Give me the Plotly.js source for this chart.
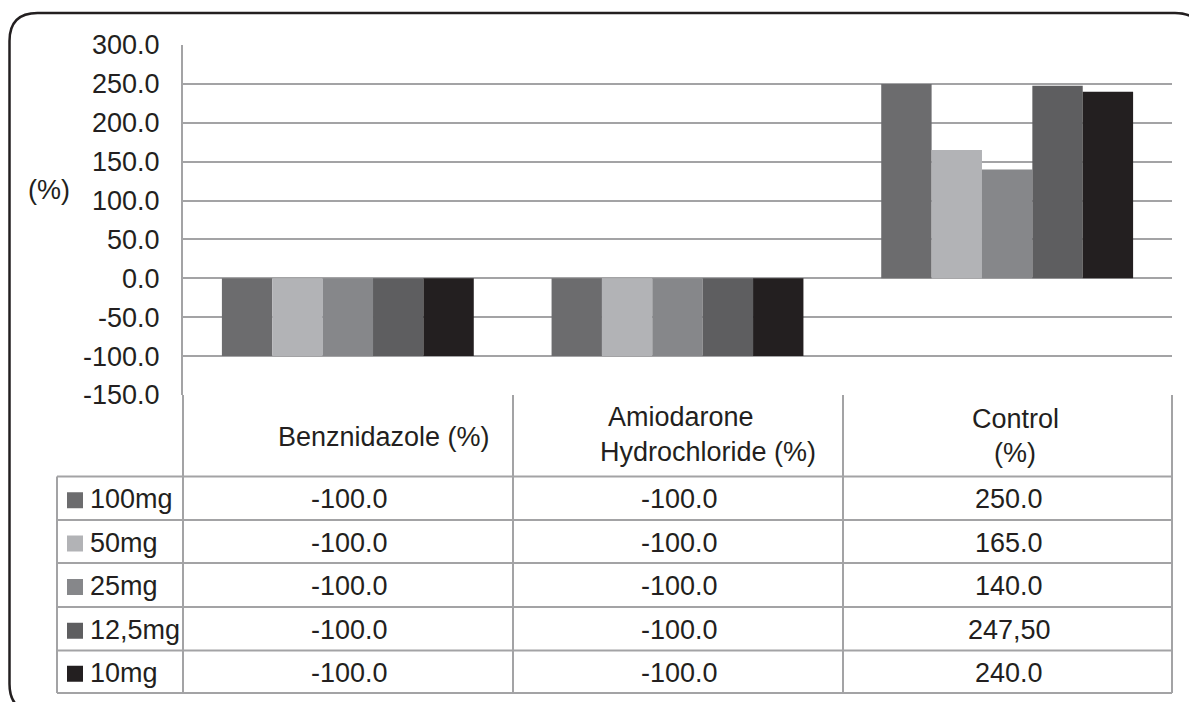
<!DOCTYPE html>
<html><head><meta charset="utf-8">
<script src="https://cdn.plot.ly/plotly-3.0.1.min.js"></script>
<style>html,body{margin:0;padding:0;background:#fff;} #chart{width:1189px;height:702px;}</style>
</head><body><div id="chart"></div>
<script>
// ---- data ----
const categories = ['Benznidazole (%)', 'Amiodarone Hydrochloride (%)', 'Control (%)'];
const headerLines = [['Benznidazole (%)'], ['Amiodarone', 'Hydrochloride (%)'], ['Control', '(%)']];
const seriesNames = ['100mg', '50mg', '25mg', '12,5mg', '10mg'];
const values100mg = [-100, -100, 250];
const values50mg = [-100, -100, 165];
const values25mg = [-100, -100, 140];
const values12_5mg = [-100, -100, 247.5];
const values10mg = [-100, -100, 240];
const labels100mg = ['-100.0', '-100.0', '250.0'];
const labels50mg = ['-100.0', '-100.0', '165.0'];
const labels25mg = ['-100.0', '-100.0', '140.0'];
const labels12_5mg = ['-100.0', '-100.0', '247,50'];
const labels10mg = ['-100.0', '-100.0', '240.0'];
const yTickValues = [-150, -100, -50, 0, 50, 100, 150, 200, 250, 300];
const yTickLabels = ['-150.0', '-100.0', '-50.0', '0.0', '50.0', '100.0', '150.0', '200.0', '250.0', '300.0'];
const yAxisTitle = '(%)';

// ---- style ----
const seriesValues = [values100mg, values50mg, values25mg, values12_5mg, values10mg];
const seriesLabels = [labels100mg, labels50mg, labels25mg, labels12_5mg, labels10mg];
const colors = ['#6c6c6e', '#b2b3b6', '#86878a', '#5e5e60', '#231f20'];
const FONT = 'Liberation Sans, Arial, sans-serif';
const TXT = '#231f20';
const GRID = '#a3a3a5';
const FS = 27;

// pixel -> paper helpers (plot area 183..1172 x 45..395)
const PL = 183, PR = 1172, PT = 45, PB = 395;
const px = x => (x - PL) / (PR - PL);
const py = y => (PB - y) / (PB - PT);

const traces = seriesNames.map((n, i) => ({
  type: 'bar', name: n, x: categories, y: seriesValues[i],
  marker: {color: colors[i], line: {width: 0}}, hoverinfo: 'skip'
}));

const shapes = [];
const annotations = [];
const line = (x0, y0, x1, y1, w, c) => shapes.push({type: 'line', xref: 'paper', yref: 'paper',
  x0: px(x0), y0: py(y0), x1: px(x1), y1: py(y1), line: {color: c || GRID, width: w || 2}});

// table geometry
const rowY = [476.5, 520, 563, 607, 650.5, 693];
const colX = [183, 513, 843, 1172];
const legendLeft = 57;
line(colX[0], PB, colX[0], rowY[5]);
line(colX[1], PB, colX[1], rowY[5]);
line(colX[2], PB, colX[2], rowY[5]);
line(colX[3], PB, colX[3], rowY[5]);
line(legendLeft, rowY[0], legendLeft, rowY[5]);
rowY.forEach(y => line(legendLeft, y, colX[3], y));

// header texts
const headerPos = [
  [{x: 384, y: 437}],
  [{x: 681, y: 417}, {x: 708, y: 452}],
  [{x: 1015, y: 419}, {x: 1015, y: 453}]
];
headerLines.forEach((lines, c) => lines.forEach((t, k) => annotations.push({
  xref: 'paper', yref: 'paper', x: px(headerPos[c][k].x), y: py(headerPos[c][k].y),
  text: t, showarrow: false, xanchor: 'center', yanchor: 'middle',
  font: {family: FONT, size: FS, color: TXT}
})));

// rows: legend swatch, name, values
seriesNames.forEach((n, i) => {
  const cy = (rowY[i] + rowY[i + 1]) / 2;
  shapes.push({type: 'rect', xref: 'paper', yref: 'paper',
    x0: px(67), x1: px(83), y0: py(cy - 6), y1: py(cy + 10),
    fillcolor: colors[i], line: {width: 0}});
  annotations.push({xref: 'paper', yref: 'paper', x: px(88), y: py(cy + 1), text: n,
    showarrow: false, xanchor: 'left', yanchor: 'middle', font: {family: FONT, size: FS, color: TXT}});
  seriesLabels[i].forEach((t, c) => annotations.push({
    xref: 'x', yref: 'paper', x: categories[c], xshift: 2, y: py(cy + 1), text: t,
    showarrow: false, xanchor: 'center', yanchor: 'middle', font: {family: FONT, size: FS, color: TXT}}));
});

// y title
annotations.push({xref: 'paper', yref: 'paper', x: px(49), y: py(190), text: yAxisTitle,
  showarrow: false, xanchor: 'center', yanchor: 'middle', font: {family: FONT, size: FS, color: TXT}});

// outer rounded border
(function () {
  const L = 9.5, T = 13, R = 1203, B = 712, r = 28;
  const P = (x, y) => px(x) + ',' + py(y);
  shapes.push({type: 'path', xref: 'paper', yref: 'paper',
    path: 'M' + P(L, T + r) + ' Q' + P(L, T) + ' ' + P(L + r, T) + ' L' + P(R - r, T) +
      ' Q' + P(R, T) + ' ' + P(R, T + r) + ' L' + P(R, B - r) + ' Q' + P(R, B) + ' ' + P(R - r, B) +
      ' L' + P(L + r, B) + ' Q' + P(L, B) + ' ' + P(L, B - r) + ' Z',
    line: {color: TXT, width: 2.5}, fillcolor: 'rgba(0,0,0,0)'});
})();

const layout = {
  width: 1189, height: 702,
  margin: {l: PL, r: 1189 - PR, t: PT, b: 702 - PB, pad: 0},
  paper_bgcolor: '#ffffff', plot_bgcolor: '#ffffff',
  showlegend: false,
  barmode: 'group', bargap: 0.236, bargroupgap: 0,
  font: {family: FONT, size: FS, color: TXT},
  xaxis: {type: 'category', range: [-0.5, 2.5], showticklabels: false, showgrid: false,
    zeroline: false, showline: false, ticks: '', fixedrange: true},
  yaxis: {range: [-150, 300], tickmode: 'array', tickvals: yTickValues, ticktext: yTickLabels,
    showgrid: true, gridcolor: GRID, gridwidth: 2, zeroline: false, showline: true,
    linecolor: GRID, linewidth: 2, ticks: '', ticklabelstandoff: 16, automargin: false,
    tickfont: {family: FONT, size: FS, color: TXT}, fixedrange: true},
  shapes: shapes, annotations: annotations
};

Plotly.newPlot('chart', traces, layout, {staticPlot: true, displayModeBar: false});
</script>
</body></html>
